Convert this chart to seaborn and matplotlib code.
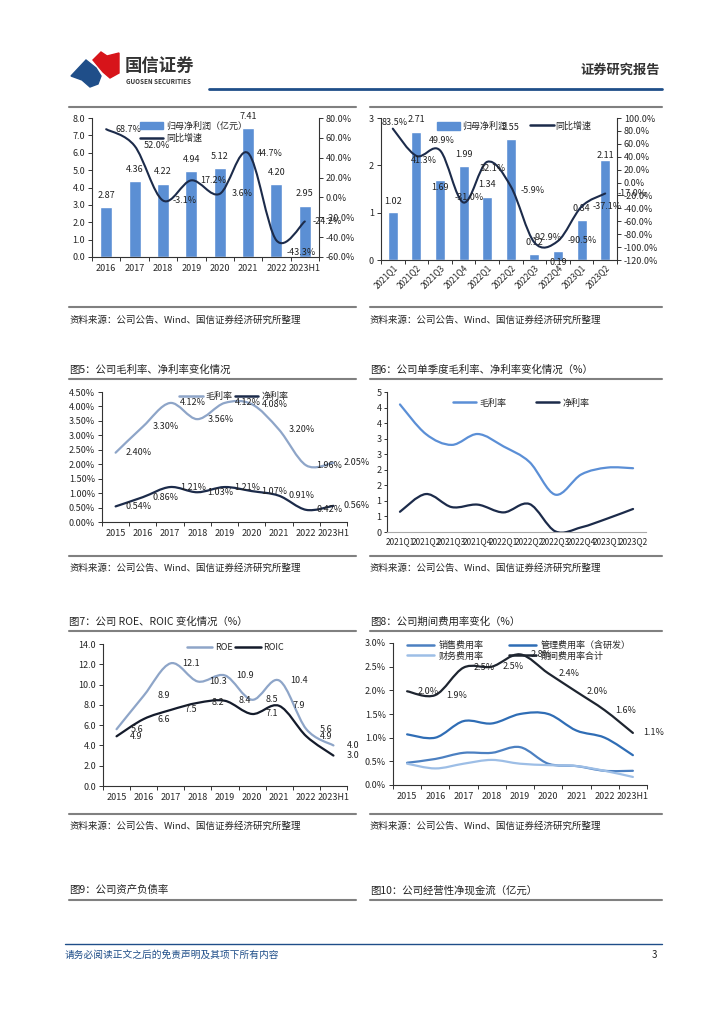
import numpy as np
import matplotlib
matplotlib.use('Agg')
import matplotlib.pyplot as plt
import seaborn as sns
from matplotlib.path import Path
from matplotlib.patches import PathPatch, Polygon, Patch
from matplotlib.lines import Line2D
from matplotlib.ticker import FuncFormatter, FixedLocator

# ---- data ----
years_a = ['2016', '2017', '2018', '2019', '2020', '2021', '2022', '2023H1']
profit_a = [2.87, 4.36, 4.22, 4.94, 5.12, 7.41, 4.20, 2.95]
growth_a = [68.7, 52.0, -3.1, 17.2, 3.6, 44.7, -43.3, -24.2]

quarters = ['2021Q1', '2021Q2', '2021Q3', '2021Q4', '2022Q1', '2022Q2',
            '2022Q3', '2022Q4', '2023Q1', '2023Q2']
profit_q = [1.02, 2.71, 1.69, 1.99, 1.34, 2.55, 0.12, 0.19, 0.84, 2.11]
growth_q = [83.5, 41.3, 49.9, -31.0, 32.1, -5.9, -92.9, -90.5, -37.1, -17.0]

years_b = ['2015', '2016', '2017', '2018', '2019', '2020', '2021', '2022', '2023H1']
gross_a = [2.40, 3.30, 4.12, 3.56, 4.12, 4.08, 3.20, 1.96, 2.05]
net_a = [0.54, 0.86, 1.21, 1.03, 1.21, 1.07, 0.91, 0.42, 0.56]

gross_q = [4.10, 3.15, 2.80, 3.15, 2.75, 2.25, 1.20, 1.85, 2.07, 2.05]
net_q = [0.65, 1.22, 0.80, 0.88, 0.63, 0.90, 0.02, 0.15, 0.43, 0.74]

roe = [5.6, 8.9, 12.1, 10.3, 10.9, 8.5, 10.4, 5.6, 4.0]
roic = [4.9, 6.6, 7.5, 8.2, 8.4, 7.1, 7.9, 4.9, 3.0]

sell_rate = [0.47, 0.55, 0.68, 0.68, 0.80, 0.45, 0.40, 0.30, 0.30]
admin_rate = [1.07, 1.00, 1.35, 1.30, 1.50, 1.50, 1.15, 1.00, 0.63]
fin_rate = [0.45, 0.35, 0.45, 0.53, 0.45, 0.42, 0.40, 0.30, 0.17]
total_rate = [1.98, 1.90, 2.48, 2.50, 2.76, 2.36, 1.97, 1.58, 1.10]

source_txt = '资料来源：公司公告、Wind、国信证券经济研究所整理'

# label offsets (pixels) where the report nudged them
off_growth_a = [(22, 0)] * 6 + [(25, -12), (22, 0)]
off_growth_q = [(2, 6), (7, -5), (2, 10), (6, 5), (6, -7), (22, -4),
                (13, 5), (24, 0), (26, 0), (27, 0)]
off_bar_q = [10, 12, -7, 11, 12, 12, 12, -11, 12, 5]

BAR = '#5B8FD4'
NAVY = '#1C2B4A'
GREYBLUE = '#8EA5C8'
MIDBLUE = '#5B8FD6'

sns.set_theme(style='white')
plt.rcParams['font.family'] = ['Noto Sans CJK SC', 'DejaVu Sans']
plt.rcParams['axes.unicode_minus'] = False

W, H = 724, 1024
fig = plt.figure(figsize=(W / 100, H / 100), dpi=100)


def px_axes(l, t, r, b):
    return fig.add_axes([l / W, 1 - b / H, (r - l) / W, (b - t) / H])


def ptext(x, y, s, **kw):
    fig.text(x / W, 1 - y / H, s, **kw)


def pline(x0, x1, y, color='#808080', lw=1.5):
    fig.add_artist(Line2D([x0 / W, x1 / W], [1 - y / H] * 2,
                          transform=fig.transFigure, color=color, lw=lw))


def smooth_line(ax, y, color, lw=1.5):
    pts = np.column_stack([np.arange(len(y)), y]).astype(float)
    n = len(pts)
    verts = [pts[0]]
    codes = [Path.MOVETO]
    for i in range(n - 1):
        p0 = pts[i - 1] if i > 0 else pts[i]
        p1, p2 = pts[i], pts[i + 1]
        p3 = pts[i + 2] if i + 2 < n else pts[i + 1]
        verts += [p1 + (p2 - p0) / 6, p2 - (p3 - p1) / 6, p2]
        codes += [Path.CURVE4] * 3
    ax.add_patch(PathPatch(Path(verts, codes), fill=False, edgecolor=color,
                           lw=lw, capstyle='round', joinstyle='round', zorder=3))


def point_labels(ax, vals, fmt, offsets=None, dx=22):
    for i, v in enumerate(vals):
        ox, oy = offsets[i] if offsets else (dx, 0)
        ax.annotate(fmt % v, (i, v), xytext=(ox, oy), textcoords='offset pixels',
                    ha='center', va='center', fontsize=6.5, color='#222', zorder=5)


def style_axes(ax, cats, boundary_ticks=True):
    n = len(cats)
    ax.set_xlim(-0.5, n - 0.5)
    for s in ['top', 'right']:
        ax.spines[s].set_visible(False)
    for s in ['left', 'bottom']:
        ax.spines[s].set_color('#333')
        ax.spines[s].set_linewidth(0.8)
    ax.xaxis.set_major_locator(FixedLocator(range(n)))
    ax.set_xticklabels(cats)
    if boundary_ticks:
        ax.xaxis.set_minor_locator(FixedLocator(np.arange(-0.5, n, 1)))
    ax.tick_params(axis='x', which='major', bottom=True, length=0, labelsize=6.5, pad=5)
    ax.tick_params(axis='x', which='minor', bottom=True, length=3, width=0.7,
                   color='#333', direction='out')
    ax.tick_params(axis='y', left=True, length=3, width=0.7, labelsize=6.5,
                   direction='out', color='#333', pad=2)
    ax.set_xlabel('')
    ax.set_ylabel('')
    ax.grid(False)


def right_axis(ax, lo, hi, step):
    axb = ax.twinx()
    axb.set_xlim(ax.get_xlim())
    axb.set_ylim(lo, hi)
    axb.set_yticks(np.arange(lo, hi + 1, step))
    axb.yaxis.set_major_formatter(FuncFormatter(lambda v, p: '%.1f%%' % v))
    for s in ['top', 'left', 'bottom']:
        axb.spines[s].set_visible(False)
    axb.spines['right'].set_color('#333')
    axb.spines['right'].set_linewidth(0.8)
    axb.tick_params(axis='y', right=True, length=3, width=0.7, labelsize=6.5,
                    direction='out', color='#333', pad=2)
    axb.grid(False)
    return axb


# ---- page header ----
fig.add_artist(Polygon(np.array([[93, 60], [101, 52], [107, 56], [119, 53], [119, 73],
                                 [110, 78], [103, 72], [98, 66]]) * [1 / W, -1 / H] + [0, 1],
                       closed=True, transform=fig.transFigure, color='#D7141A'))
fig.add_artist(Polygon(np.array([[71, 76], [86, 60], [96, 68], [101, 76], [98, 84],
                                 [90, 87], [82, 80]]) * [1 / W, -1 / H] + [0, 1],
                       closed=True, transform=fig.transFigure, color='#1F4E89'))
ptext(125, 66, '国信证券', fontsize=12.5, color='#333', va='center', fontweight='bold')
ptext(126, 81, 'GUOSEN SECURITIES', fontsize=4.5, color='#333', va='center', fontweight='bold')
ptext(660, 70, '证券研究报告', fontsize=9.5, color='#333', va='center', ha='right', fontweight='bold')
pline(209, 662, 89, color='#1F4E89', lw=2)

# section rules / titles / sources
for x0, x1 in [(69, 356), (370, 662)]:
    for yy in [107, 307, 379, 556, 631, 814, 900]:
        pline(x0, x1, yy)
    for yy in [320, 568, 826]:
        ptext(x0, yy, source_txt, fontsize=6.8, color='#222', va='center')

ttl = dict(fontsize=7.5, color='#222', va='center')
ptext(69, 370, '图5：公司毛利率、净利率变化情况', **ttl)
ptext(370, 370, '图6：公司单季度毛利率、净利率变化情况（%）', **ttl)
ptext(69, 622, '图7：公司 ROE、ROIC 变化情况（%）', **ttl)
ptext(370, 622, '图8：公司期间费用率变化（%）', **ttl)
ptext(69, 890, '图9：公司资产负债率', **ttl)
ptext(370, 890, '图10：公司经营性净现金流（亿元）', **ttl)

# footer
pline(65, 662, 944, color='#1F4E89', lw=1)
ptext(65, 955, '请务必阅读正文之后的免责声明及其项下所有内容', fontsize=7,
      color='#1F4E89', va='center', style='italic')
ptext(657, 955, '3', fontsize=7, color='#222', va='center', ha='right')

# ---- chart 1: annual profit + growth ----
ax1 = px_axes(92, 118, 319, 257)
sns.barplot(x=years_a, y=profit_a, color=BAR, saturation=1, width=0.42, ax=ax1)
style_axes(ax1, years_a)
ax1.set_ylim(0, 8)
ax1.set_yticks(np.arange(0, 8.1, 1))
ax1.yaxis.set_major_formatter(FuncFormatter(lambda v, p: '%.1f' % v))
for i, v in enumerate(profit_a):
    ax1.annotate('%.2f' % v, (i, v), xytext=(0, 12), textcoords='offset pixels',
                 ha='center', va='center', fontsize=6.5, color='#222')
ax1b = right_axis(ax1, -60, 80, 20)
smooth_line(ax1b, growth_a, NAVY, 1.5)
point_labels(ax1b, growth_a, '%.1f%%', offsets=off_growth_a)
ax1b.legend([Patch(color=BAR), Line2D([], [], color=NAVY, lw=1.8)],
            ['归母净利润（亿元）', '同比增速'], loc='upper left',
            bbox_to_anchor=(0.195, 1.0), frameon=False, fontsize=6.5,
            handlelength=2.6, handleheight=0.9, labelspacing=0.35,
            borderaxespad=0, handletextpad=0.3)

# ---- chart 2: quarterly profit + growth ----
ax2 = px_axes(381, 118, 617, 260)
sns.barplot(x=quarters, y=profit_q, color=BAR, saturation=1, width=0.42, ax=ax2)
style_axes(ax2, quarters)
ax2.set_ylim(0, 3)
ax2.set_yticks([0, 1, 2, 3])
ax2.yaxis.set_major_formatter(FuncFormatter(lambda v, p: '%d' % v))
ax2.tick_params(axis='x', which='major', labelsize=6, pad=2)
for lab in ax2.get_xticklabels():
    lab.set_rotation(45)
    lab.set_ha('right')
    lab.set_rotation_mode('anchor')
for i, v in enumerate(profit_q):
    ax2.annotate('%.2f' % v, (i, v), xytext=(0, off_bar_q[i]), textcoords='offset pixels',
                 ha='center', va='center', fontsize=6.5, color='#222')
ax2b = right_axis(ax2, -120, 100, 20)
smooth_line(ax2b, growth_q, NAVY, 1.5)
point_labels(ax2b, growth_q, '%.1f%%', offsets=off_growth_q)
ax2b.legend([Patch(color=BAR), Line2D([], [], color=NAVY, lw=1.8)],
            ['归母净利润', '同比增速'], loc='upper left', ncol=2,
            bbox_to_anchor=(0.22, 1.0), frameon=False, fontsize=6.5,
            handlelength=2.6, handleheight=0.9, borderaxespad=0,
            handletextpad=0.2, columnspacing=2.6)

# ---- chart 3: gross / net margin annual ----
ax3 = px_axes(102, 392, 347, 522)
style_axes(ax3, years_b)
ax3.set_ylim(0, 4.5)
ax3.set_yticks(np.arange(0, 4.51, 0.5))
ax3.yaxis.set_major_formatter(FuncFormatter(lambda v, p: '%.2f%%' % v))
smooth_line(ax3, gross_a, GREYBLUE, 1.6)
smooth_line(ax3, net_a, NAVY, 1.6)
point_labels(ax3, gross_a, '%.2f%%', dx=23)
point_labels(ax3, net_a, '%.2f%%', dx=23)
ax3.legend([Line2D([], [], color=GREYBLUE, lw=1.8), Line2D([], [], color=NAVY, lw=1.8)],
           ['毛利率', '净利率'], loc='upper left', ncol=2, bbox_to_anchor=(0.3, 1.03),
           frameon=False, fontsize=6.5, handlelength=2.6, borderaxespad=0,
           handletextpad=0.3, columnspacing=0.3)

# ---- chart 4: gross / net margin quarterly ----
ax4 = px_axes(387, 392, 646, 532)
style_axes(ax4, quarters, boundary_ticks=False)
ax4.spines['bottom'].set_color('#aaa')
ax4.set_ylim(0, 4.5)
ax4.set_yticks(np.arange(0, 4.51, 0.5))
ax4.yaxis.set_major_formatter(FuncFormatter(lambda v, p: '%d' % int(np.floor(v + 0.5))))
ax4.tick_params(axis='x', which='major', labelsize=6, pad=4)
ax4.tick_params(axis='y', length=2)
smooth_line(ax4, gross_q, MIDBLUE, 1.6)
smooth_line(ax4, net_q, NAVY, 1.6)
ax4.legend([Line2D([], [], color=MIDBLUE, lw=1.8), Line2D([], [], color=NAVY, lw=1.8)],
           ['毛利率', '净利率'], loc='upper left', ncol=2, bbox_to_anchor=(0.24, 0.98),
           frameon=False, fontsize=6.5, handlelength=2.6, borderaxespad=0,
           handletextpad=0.4, columnspacing=3.2)

# ---- chart 5: ROE / ROIC ----
ax5 = px_axes(103, 644, 347, 786)
style_axes(ax5, years_b)
ax5.set_ylim(0, 14)
ax5.set_yticks(np.arange(0, 14.1, 2))
ax5.yaxis.set_major_formatter(FuncFormatter(lambda v, p: '%.1f' % v))
smooth_line(ax5, roe, GREYBLUE, 1.6)
smooth_line(ax5, roic, '#141B2B', 1.6)
point_labels(ax5, roe, '%.1f', dx=20)
point_labels(ax5, roic, '%.1f', dx=20)
ax5.legend([Line2D([], [], color=GREYBLUE, lw=1.8), Line2D([], [], color='#141B2B', lw=1.8)],
           ['ROE', 'ROIC'], loc='upper left', ncol=2, bbox_to_anchor=(0.33, 1.03),
           frameon=False, fontsize=6.5, handlelength=2.8, borderaxespad=0,
           handletextpad=0.3, columnspacing=0.3)

# ---- chart 6: expense ratios ----
ax6 = px_axes(393, 643, 647, 785)
style_axes(ax6, years_b)
ax6.set_ylim(0, 3)
ax6.set_yticks(np.arange(0, 3.01, 0.5))
ax6.yaxis.set_major_formatter(FuncFormatter(lambda v, p: '%.1f%%' % v))
c_sell, c_admin, c_fin, c_tot = '#4C80C1', '#2F6DB5', '#9DBEE6', '#1E2530'
smooth_line(ax6, sell_rate, c_sell, 1.6)
smooth_line(ax6, admin_rate, c_admin, 1.6)
smooth_line(ax6, fin_rate, c_fin, 1.6)
smooth_line(ax6, total_rate, c_tot, 1.6)
point_labels(ax6, total_rate, '%.1f%%', dx=21)
ax6.legend([Line2D([], [], color=c_sell, lw=1.8), Line2D([], [], color=c_fin, lw=1.8),
            Line2D([], [], color=c_admin, lw=1.8), Line2D([], [], color=c_tot, lw=1.8)],
           ['销售费用率', '财务费用率', '管理费用率（含研发）', '期间费用率合计'],
           loc='upper left', ncol=2, bbox_to_anchor=(0.04, 1.04), frameon=False,
           fontsize=6.5, handlelength=3.0, borderaxespad=0, handletextpad=0.5,
           columnspacing=2.8, labelspacing=0.15)

fig.savefig('out.png', dpi=100, facecolor='white')
